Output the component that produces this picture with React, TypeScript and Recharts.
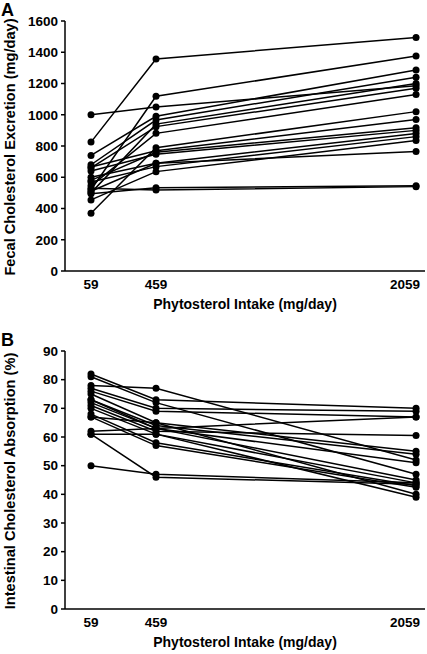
import React from 'react';
import { LineChart, Line, XAxis, YAxis } from 'recharts';

// Phytosterol intake levels (mg/day)
const intakeLevels = [59, 459, 2059];
const xTicks = [59, 459, 2059];
const fecalTicks = [0, 200, 400, 600, 800, 1000, 1200, 1400, 1600];
const absorptionTicks = [0, 10, 20, 30, 40, 50, 60, 70, 80, 90];

// Panel A: fecal cholesterol excretion (mg/day), one entry per subject
const fecal59 = [825, 1000, 520, 740, 680, 500, 660, 545, 370, 665, 580, 640, 510, 570, 455, 495, 530, 600];
const fecal459 = [1357, 1050, 1118, 990, 966, 940, 924, 881, 789, 770, 760, 747, 689, 668, 636, 533, 518, 689];
const fecal2059 = [1495, 1185, 1376, 1286, 1240, 1200, 1170, 1130, 1020, 970, 917, 900, 880, 860, 835, 545, 540, 765];

// Panel B: intestinal cholesterol absorption (%), one entry per subject
const absorption59 = [82, 81, 78, 77, 76, 75, 73, 73, 72, 71, 70, 68, 67, 67, 62, 61, 61, 50];
const absorption459 = [73, 72, 77, 70, 69, 65, 64, 63, 63, 62, 61, 58, 57, 65, 63, 61, 46, 47];
const absorption2059 = [70, 47, 52, 69, 67, 55, 54, 67, 45, 60.5, 44, 43, 42.5, 40, 51, 39, 43.5, 44];

const subjectKeys = fecal59.map((_, i) => `s${i + 1}`);

function buildRows(cols: number[][]) {
  return intakeLevels.map((x, k) => {
    const row: Record<string, number> = { x };
    cols[k].forEach((v, i) => {
      row[subjectKeys[i]] = v;
    });
    return row;
  });
}

const fecalRows = buildRows([fecal59, fecal459, fecal2059]);
const absorptionRows = buildRows([absorption59, absorption459, absorption2059]);

const FONT = '"Liberation Sans", Arial, Helvetica, sans-serif';
const TICK_SIZE = 13.5;
const TITLE_SIZE = 14;
const Y_TITLE_SIZE = 14.6;

const XTick = (props: any) => {
  const { x, y, payload } = props;
  const last = payload.value === 2059;
  return (
    <text
      x={last ? x + 9 : x}
      y={y}
      dy="0.71em"
      textAnchor={last ? 'end' : 'middle'}
      fontFamily={FONT}
      fontWeight="bold"
      fontSize={TICK_SIZE}
      fill="#000"
    >
      {payload.value}
    </text>
  );
};

const YTick = (props: any) => {
  const { x, y, payload } = props;
  return (
    <text
      x={x}
      y={y}
      dy="0.355em"
      textAnchor="end"
      fontFamily={FONT}
      fontWeight="bold"
      fontSize={TICK_SIZE}
      fill="#000"
    >
      {payload.value}
    </text>
  );
};

function Panel({
  rows,
  yDomain,
  yTicks,
  yTitle,
  yTitleCenter,
  height,
  marginTop,
  xAxisHeight,
}: {
  rows: Record<string, number>[];
  yDomain: [number, number];
  yTicks: number[];
  yTitle: string;
  yTitleCenter: number;
  height: number;
  marginTop: number;
  xAxisHeight: number;
}) {
  return (
    <LineChart
      width={427}
      height={height}
      data={rows}
      margin={{ top: marginTop, right: 2, bottom: 0, left: 0 }}
    >
      <XAxis
        dataKey="x"
        type="number"
        domain={[-101, 2114]}
        ticks={xTicks}
        allowDataOverflow
        height={xAxisHeight}
        tickLine={false}
        tickSize={6}
        tickMargin={2}
        axisLine={{ stroke: '#000', strokeWidth: 1.5 }}
        tick={<XTick />}
        label={{
          content: () => (
            <text
              x={245}
              y={height - xAxisHeight + 38}
              textAnchor="middle"
              fontFamily={FONT}
              fontWeight="bold"
              fontSize={TITLE_SIZE}
              fill="#000"
            >
              Phytosterol Intake (mg/day)
            </text>
          ),
        }}
      />
      <YAxis
        type="number"
        domain={yDomain}
        ticks={yTicks}
        width={65}
        interval={0}
        tickSize={4}
        tickMargin={3}
        tickLine={{ stroke: '#000', strokeWidth: 1.5 }}
        axisLine={{ stroke: '#000', strokeWidth: 1.5 }}
        tick={<YTick />}
        label={{
          content: () => (
            <text
              x={15}
              y={yTitleCenter}
              transform={`rotate(-90 15 ${yTitleCenter})`}
              textAnchor="middle"
              fontFamily={FONT}
              fontWeight="bold"
              fontSize={Y_TITLE_SIZE}
              fill="#000"
            >
              {yTitle}
            </text>
          ),
        }}
      />
      {subjectKeys.map((k) => (
        <Line
          key={k}
          dataKey={k}
          type="linear"
          stroke="#000"
          strokeWidth={1.5}
          dot={{ r: 3.5, fill: '#000', stroke: '#000', strokeWidth: 0 }}
          activeDot={false}
          isAnimationActive={false}
        />
      ))}
    </LineChart>
  );
}

const letterStyle: React.CSSProperties = {
  position: 'absolute',
  left: 1,
  fontFamily: FONT,
  fontWeight: 'bold',
  fontSize: 18,
  lineHeight: '18px',
  color: '#000',
};

export default function App() {
  return (
    <div
      style={{
        position: 'absolute',
        left: 0,
        top: 0,
        width: 427,
        height: 654,
        background: '#fff',
        overflow: 'hidden',
      }}
    >
      <div style={{ position: 'absolute', left: 0, top: 0 }}>
        <Panel
          rows={fecalRows}
          yDomain={[0, 1600]}
          yTicks={fecalTicks}
          yTitle="Fecal Cholesterol Excretion (mg/day)"
          yTitleCenter={147}
          height={320}
          marginTop={21}
          xAxisHeight={49}
        />
      </div>
      <div style={{ position: 'absolute', left: 0, top: 320 }}>
        <Panel
          rows={absorptionRows}
          yDomain={[0, 90]}
          yTicks={absorptionTicks}
          yTitle="Intestinal Cholesterol Absorption (%)"
          yTitleCenter={161}
          height={334}
          marginTop={31}
          xAxisHeight={45}
        />
      </div>
      <div style={{ ...letterStyle, top: 1 }}>A</div>
      <div style={{ ...letterStyle, top: 331 }}>B</div>
    </div>
  );
}
